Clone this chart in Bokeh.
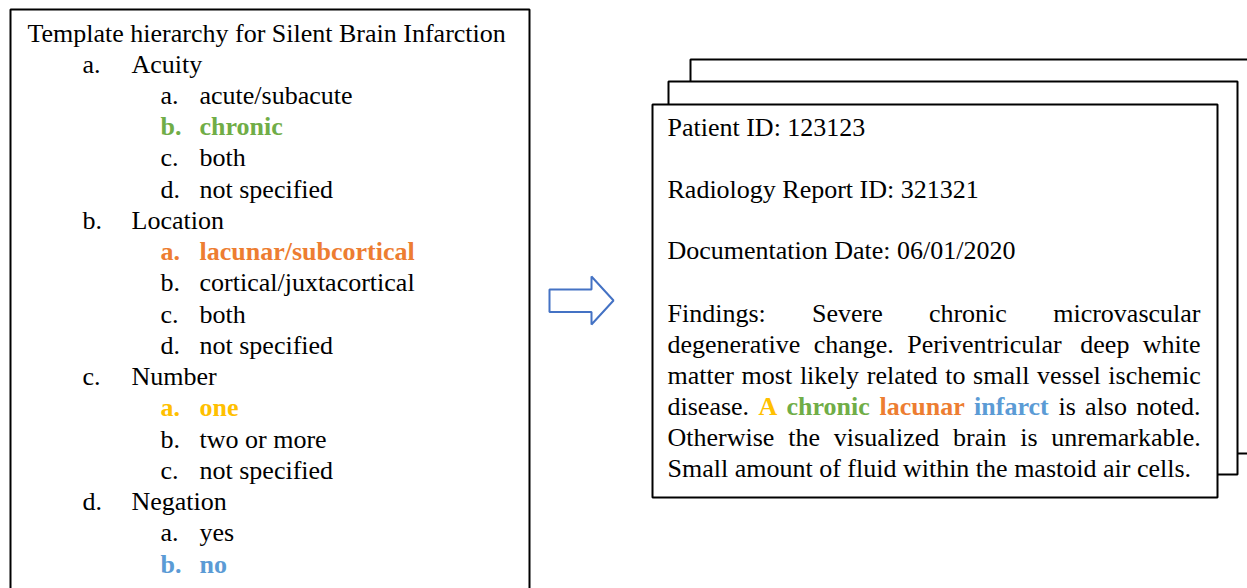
from bokeh.plotting import figure
from bokeh.models import ColumnDataSource, Range1d
from bokeh.core.properties import value
from bokeh.embed import file_html
from bokeh.resources import INLINE

# ---------------- content ----------------
title = "Template hierarchy for Silent Brain Infarction"
categories = ["Acuity", "Location", "Number", "Negation"]
options = [
    ["acute/subacute", "chronic", "both", "not specified"],
    ["lacunar/subcortical", "cortical/juxtacortical", "both", "not specified"],
    ["one", "two or more", "not specified"],
    ["yes", "no"],
]
selected = [1, 0, 0, 1]
highlight_colors = ["#70AD47", "#ED7D31", "#FFC000", "#5B9BD5"]
letters = ["a.", "b.", "c.", "d."]

header_lines = ["Patient ID: 123123", "Radiology Report ID: 321321",
                "Documentation Date: 06/01/2020"]

findings_words = [
    ["Findings:", "Severe", "chronic", "microvascular"],
    ["degenerative", "change.", "Periventricular", "deep", "white"],
    ["matter", "most", "likely", "related", "to", "small", "vessel", "ischemic"],
    ["disease.", "A", "chronic", "lacunar", "infarct", "is", "also", "noted."],
    ["Otherwise", "the", "visualized", "brain", "is", "unremarkable."],
    ["Small amount of fluid within the mastoid air cells."],
]
# word colours ("" = plain black); line 4 carries the highlighted terms
findings_colors = [
    [""] * 4,
    [""] * 5,
    [""] * 8,
    ["", "#FFC000", "#70AD47", "#ED7D31", "#5B9BD5", "", "", ""],
    [""] * 6,
    [""],
]

# ---------------- layout (pixel coordinates of the page) ----------------
# justified word starts (Times metrics, 26px, text block 667..1200)
word_x = [
    [667, 811.5, 928.4, 1052.7],
    [667, 813.2, 906.7, 1079.8, 1142.3],
    [667, 741.1, 799.4, 866.3, 944.7, 972.6, 1036.6, 1107.8],
    [667, 757.9, 786.0, 879.1, 973.6, 1058.0, 1084.6, 1135.8],
    [667, 787.7, 833.3, 952.5, 1019.7, 1050.8],
    [667],
]

FONT = value("'Liberation Serif', 'Times New Roman', serif")
SIZE = value("26px")

W, H = 1247, 588
p = figure(width=W, height=H, output_backend="svg", toolbar_location=None,
           x_range=Range1d(0, W), y_range=Range1d(H, 0),
           x_axis_location=None, y_axis_location=None, min_border=0)
p.grid.visible = False
p.outline_line_color = None
p.background_fill_color = "white"
p.border_fill_color = "white"

# ---- left box ----
p.quad(left=[10], right=[529], top=[9], bottom=[610], fill_color=None,
       line_color="black", line_width=2)

tx, ty, tt, tc, tb = [], [], [], [], []
line_h = 31.24
mid0 = 32.5
tx.append(27); ty.append(mid0); tt.append(title); tc.append("black"); tb.append("normal")
row = 1
for ci, cat in enumerate(categories):
    y = mid0 + line_h * row
    tx += [82, 131]; ty += [y, y]; tt += [letters[ci], cat]
    tc += ["black", "black"]; tb += ["normal", "normal"]
    row += 1
    for oi, opt in enumerate(options[ci]):
        y = mid0 + line_h * row
        sel = oi == selected[ci]
        col = highlight_colors[ci] if sel else "black"
        sty = "bold" if sel else "normal"
        tx += [160, 199]; ty += [y, y]; tt += [letters[oi], opt]
        tc += [col, col]; tb += [sty, sty]
        row += 1

# ---- arrow ----
ax = [549, 591, 591, 613, 591, 591, 549]
ay = [289, 289, 276, 300, 324, 311.5, 311.5]
p.patch(ax, ay, fill_color="white", line_color="#4472C4", line_width=2)

# ---- stacked report pages (back to front) ----
pages_left = [690, 668, 652]
pages_right = [1270, 1237, 1217]
pages_top = [59, 81, 104]
pages_bottom = [453, 474, 497]
for l, r, t, b in zip(pages_left, pages_right, pages_top, pages_bottom):
    p.quad(left=[l], right=[r], top=[t], bottom=[b], fill_color="white",
           line_color="black", line_width=2)

# ---- report text ----
hmid = [126.5, 188.5, 250.0]
for y, s in zip(hmid, header_lines):
    tx.append(667); ty.append(y); tt.append(s); tc.append("black"); tb.append("normal")

fmid0 = 312.7
for li, words in enumerate(findings_words):
    y = fmid0 + 31.1 * li
    for wi, w in enumerate(words):
        col = findings_colors[li][wi]
        tx.append(word_x[li][wi]); ty.append(y); tt.append(w)
        tc.append(col if col else "black"); tb.append("bold" if col else "normal")

src = ColumnDataSource(dict(x=tx, y=ty, text=tt, color=tc, style=tb))
p.text(x="x", y="y", text="text", source=src, text_color="color",
       text_font_style="style", text_font=FONT, text_font_size=SIZE,
       text_baseline="middle", text_align="left")

open("out.html", "w").write(file_html(p, INLINE))
